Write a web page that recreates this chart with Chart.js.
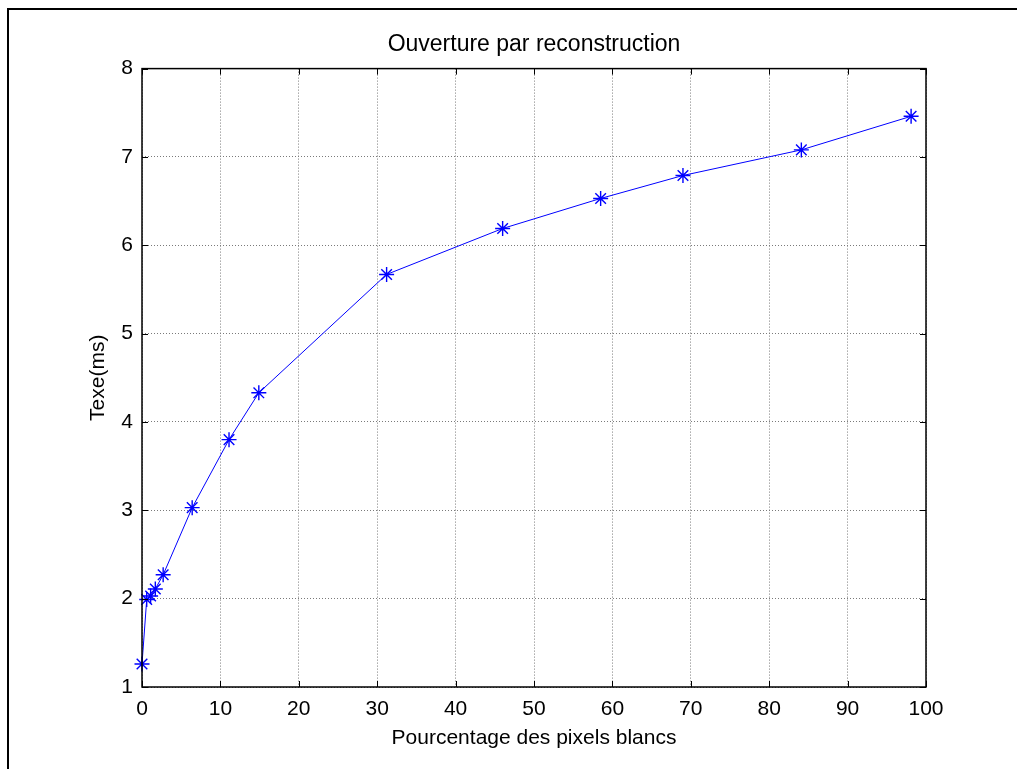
<!DOCTYPE html>
<html>
<head>
<meta charset="utf-8">
<script src="https://cdn.jsdelivr.net/npm/chart.js@4/dist/chart.umd.min.js"></script>
<style>
    html, body { margin: 0; padding: 0; background: #fff; overflow: hidden; }
    #wrap { position: relative; width: 1017px; height: 769px; }
    #frame {
        position: absolute; left: 7px; top: 8px; right: -10px; bottom: -10px;
        border-top: 2px solid #000; border-left: 2px solid #000;
        pointer-events: none;
    }
</style>
</head>
<body>
<div id="wrap">
    <canvas id="chart" width="1017" height="769"></canvas>
    <div id="frame"></div>
</div>
<script>
// ===== DATA =====
const pctWhite = [0, 0.6, 1.1, 1.7, 2.7, 6.4, 11.1, 14.9, 31.2, 46.0, 58.5, 69.0, 84.1, 98.1];
const texeMs   = [1.26, 1.99, 2.03, 2.11, 2.27, 3.03, 3.80, 4.33, 5.67, 6.19, 6.53, 6.79, 7.08, 7.46];
const xTicks = [0, 10, 20, 30, 40, 50, 60, 70, 80, 90, 100];
const yTicks = [1, 2, 3, 4, 5, 6, 7, 8];

const FONT = '"Liberation Sans", Arial, sans-serif';

// Box around the axes + inward tick marks on all four sides (MATLAB style)
const axesBox = {
    id: 'axesBox',
    afterDraw(chart) {
        const { ctx, chartArea: a, scales } = chart;
        ctx.save();
        ctx.strokeStyle = '#000';
        ctx.lineWidth = 1.5;
        ctx.strokeRect(a.left, a.top, a.right - a.left, a.bottom - a.top);
        ctx.lineWidth = 1;
        ctx.beginPath();
        xTicks.forEach(v => {
            const px = Math.round(scales.x.getPixelForValue(v)) + 0.5;
            ctx.moveTo(px, a.bottom); ctx.lineTo(px, a.bottom - 6);
            ctx.moveTo(px, a.top); ctx.lineTo(px, a.top + 6);
        });
        yTicks.forEach(v => {
            const py = Math.round(scales.y.getPixelForValue(v)) + 0.5;
            ctx.moveTo(a.left, py); ctx.lineTo(a.left + 6, py);
            ctx.moveTo(a.right, py); ctx.lineTo(a.right - 6, py);
        });
        ctx.stroke();
        ctx.restore();
    }
};

new Chart(document.getElementById('chart'), {
    type: 'scatter',
    data: {
        datasets: [{
            label: 'Texe',
            data: pctWhite.map((x, i) => ({ x: x, y: texeMs[i] })),
            showLine: true,
            clip: false,
            borderColor: '#0000ff',
            backgroundColor: '#0000ff',
            borderWidth: 1,
            pointStyle: 'star',
            pointRadius: 7.5,
            pointBorderWidth: 1.4,
            pointBorderColor: '#0000ff',
            tension: 0
        }]
    },
    options: {
        responsive: false,
        animation: false,
        layout: { padding: { left: 0, top: 0, right: 91, bottom: 0 } },
        plugins: {
            legend: { display: false },
            tooltip: { enabled: false },
            title: {
                display: true,
                fullSize: false,
                text: 'Ouverture par reconstruction',
                color: '#000',
                font: { family: FONT, size: 23, weight: 'normal' },
                padding: { top: 31, bottom: 10 }
            }
        },
        scales: {
            x: {
                type: 'linear',
                min: 0, max: 100,
                afterFit(scale) { scale.height = 82; },
                afterBuildTicks(scale) { scale.ticks = xTicks.map(v => ({ value: v })); },
                grid: { color: '#7a7a7a', lineWidth: 1, drawTicks: false },
                border: { display: false, dash: [1, 2] },
                ticks: { color: '#000', padding: 10, font: { family: FONT, size: 21 } },
                title: {
                    display: true,
                    text: 'Pourcentage des pixels blancs',
                    color: '#000',
                    font: { family: FONT, size: 21 },
                    padding: { top: 0, bottom: 18 }
                }
            },
            y: {
                type: 'linear',
                min: 1, max: 8,
                afterFit(scale) { scale.width = 142; },
                afterBuildTicks(scale) { scale.ticks = yTicks.map(v => ({ value: v })); },
                grid: { color: '#7a7a7a', lineWidth: 1, drawTicks: false },
                border: { display: false, dash: [1, 2] },
                ticks: { color: '#000', padding: 9, font: { family: FONT, size: 21 } },
                title: {
                    display: true,
                    text: 'Texe(ms)',
                    color: '#000',
                    font: { family: FONT, size: 21 },
                    padding: { top: 86, bottom: 0 }
                }
            }
        }
    },
    plugins: [axesBox]
});
</script>
</body>
</html>
